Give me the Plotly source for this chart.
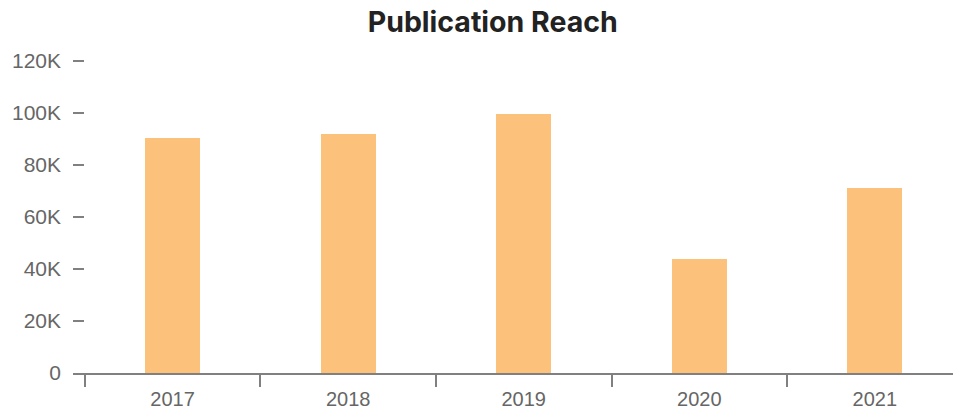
import plotly.graph_objects as go

years = ["2017", "2018", "2019", "2020", "2021"]
reach = [90400, 91900, 99800, 43800, 71200]
y_ticks = [0, 20000, 40000, 60000, 80000, 100000, 120000]
y_tick_labels = ["0", "20K", "40K", "60K", "80K", "100K", "120K"]

fig = go.Figure()
fig.add_trace(go.Bar(x=years, y=reach, marker=dict(color="#fcc17a", line=dict(width=0)), width=0.313))

fig.update_layout(
    width=953, height=408,
    margin=dict(l=73, r=0, t=60, b=35, autoexpand=False),
    paper_bgcolor="white", plot_bgcolor="white",
    title=dict(text="<b>Publication Reach</b>", x=0.517, xanchor="center", y=0.945, yanchor="middle",
               font=dict(family="Inter", size=28.5, color="#222222")),
    showlegend=False,
    bargap=0,
)
fig.update_xaxes(
    type="category", range=[-0.567, 4.445], automargin=False,
    showline=True, linecolor="#808080", linewidth=2,
    ticks="outside", tickson="boundaries", ticklen=12, tickwidth=2, tickcolor="#808080",
    ticklabelstandoff=7,
    showgrid=False, zeroline=False,
    tickfont=dict(family="Liberation Sans", size=20, color="#666666"),
)
fig.update_yaxes(
    range=[0, 120400], tickvals=y_ticks, ticktext=y_tick_labels, automargin=False,
    showline=False, showgrid=False, zeroline=False,
    ticks="inside", ticklen=11, tickwidth=2, tickcolor="#808080",
    ticklabelstandoff=11,
    tickfont=dict(family="Liberation Sans", size=21, color="#666666"),
)

fig.write_html("out.html", config={"displayModeBar": False},
               post_script="document.body.style.margin='0';document.body.style.overflow='hidden';")
